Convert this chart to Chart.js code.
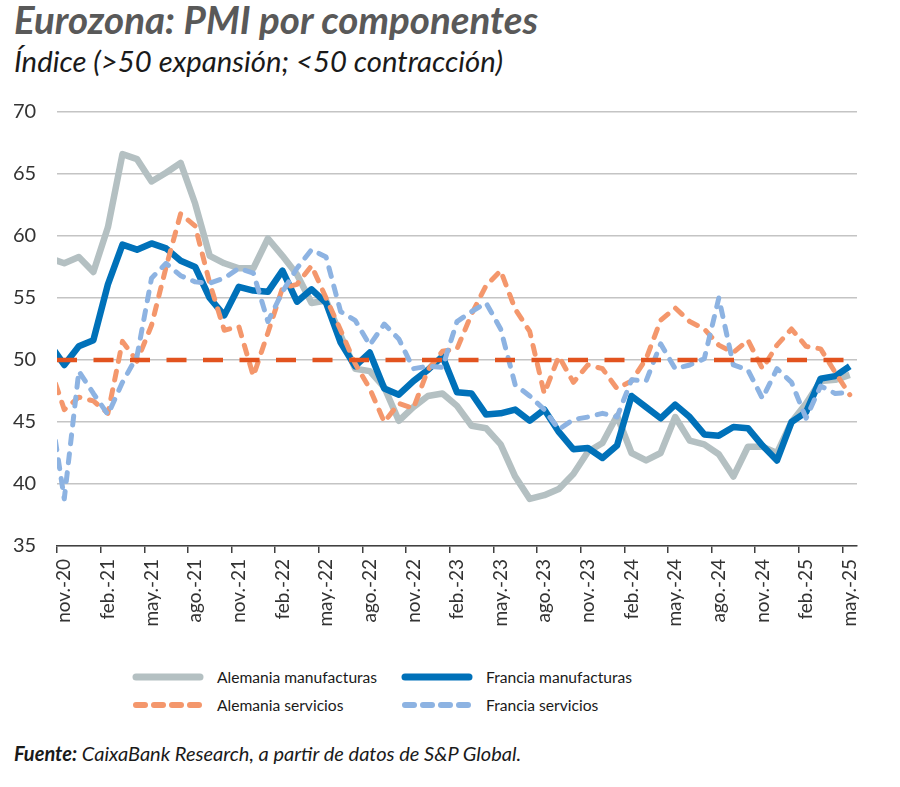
<!DOCTYPE html>
<html lang="es">
<head>
<meta charset="utf-8">
<title>Eurozona: PMI por componentes</title>
<script src="https://cdn.jsdelivr.net/npm/chart.js@4.4.1/dist/chart.umd.min.js"></script>
<style>
  html, body { margin: 0; padding: 0; background: #fff; }
  body { width: 900px; height: 787px; position: relative; overflow: hidden; font-family: Lato, 'Open Sans', sans-serif; }
  .txt { position: absolute; line-height: 1; white-space: nowrap; }
  #title { left: 14px; top: 0px; font-size: 38.5px; font-weight: 700; font-style: italic; color: #595959; }
  #subtitle { left: 14px; top: 46px; font-size: 29.3px; font-style: italic; color: #1a1a1a; }
  #chart { position: absolute; left: 0; top: 90px; }
  .leg { font-size: 15.6px; color: #1a1a1a; }
  #legend-lines { position: absolute; left: 0; top: 660px; }
  #source { left: 14px; top: 743px; font-size: 20px; font-style: italic; color: #1a1a1a; }
  #source b { font-weight: 700; }
</style>
</head>
<body>
<div id="title" class="txt">Eurozona: PMI por componentes</div>
<div id="subtitle" class="txt">Índice (&gt;50 expansión; &lt;50 contracción)</div>

<canvas id="chart" width="900" height="560"></canvas>

<!-- legend: two rows, two aligned columns -->
<svg id="legend-lines" width="500" height="60">
  <line x1="136" y1="17" x2="200" y2="17" stroke="#b4c0c2" stroke-width="7" stroke-linecap="round"/>
  <line x1="405" y1="17" x2="469" y2="17" stroke="#0071b9" stroke-width="7" stroke-linecap="round"/>
  <line x1="136" y1="45" x2="200" y2="45" stroke="#f4976c" stroke-width="6" stroke-linecap="round" stroke-dasharray="9 9"/>
  <line x1="405" y1="45" x2="469" y2="45" stroke="#8db3e2" stroke-width="6" stroke-linecap="round" stroke-dasharray="9 9"/>
</svg>
<div class="txt leg" style="left:217px; top:669.5px;">Alemania manufacturas</div>
<div class="txt leg" style="left:486px; top:669.5px;">Francia manufacturas</div>
<div class="txt leg" style="left:217px; top:698px;">Alemania servicios</div>
<div class="txt leg" style="left:486px; top:698px;">Francia servicios</div>

<div id="source" class="txt"><b>Fuente:</b> CaixaBank Research, a partir de datos de S&amp;P Global.</div>

<script>
// Monthly index, first entry (oct.-20) sits just outside the left edge of the plot
const months = [
  'oct.-20', 'nov.-20', 'dic.-20',
  'ene.-21', 'feb.-21', 'mar.-21', 'abr.-21', 'may.-21', 'jun.-21', 'jul.-21', 'ago.-21', 'sep.-21', 'oct.-21', 'nov.-21', 'dic.-21',
  'ene.-22', 'feb.-22', 'mar.-22', 'abr.-22', 'may.-22', 'jun.-22', 'jul.-22', 'ago.-22', 'sep.-22', 'oct.-22', 'nov.-22', 'dic.-22',
  'ene.-23', 'feb.-23', 'mar.-23', 'abr.-23', 'may.-23', 'jun.-23', 'jul.-23', 'ago.-23', 'sep.-23', 'oct.-23', 'nov.-23', 'dic.-23',
  'ene.-24', 'feb.-24', 'mar.-24', 'abr.-24', 'may.-24', 'jun.-24', 'jul.-24', 'ago.-24', 'sep.-24', 'oct.-24', 'nov.-24', 'dic.-24',
  'ene.-25', 'feb.-25', 'mar.-25', 'abr.-25', 'may.-25'
]

const alemaniaManuf = [
  58.2, 57.8, 58.3,
  57.1, 60.7, 66.6, 66.2, 64.4, 65.1, 65.9, 62.6, 58.4, 57.8, 57.4, 57.4,
  59.8, 58.4, 56.9, 54.6, 54.8, 52.0, 49.3, 49.1, 47.8, 45.1, 46.2, 47.1,
  47.3, 46.3, 44.7, 44.5, 43.2, 40.6, 38.8, 39.1, 39.6, 40.8, 42.6, 43.3,
  45.5, 42.5, 41.9, 42.5, 45.4, 43.5, 43.2, 42.4, 40.6, 43.0, 43.0, 42.5,
  45.0, 46.5, 48.3, 48.4, 48.8
]

const franciaManuf = [
  51.3, 49.6, 51.1,
  51.6, 56.1, 59.3, 58.9, 59.4, 59.0, 58.0, 57.5, 55.0, 53.6, 55.9, 55.6,
  55.5, 57.2, 54.7, 55.7, 54.6, 51.4, 49.5, 50.6, 47.7, 47.2, 48.3, 49.2,
  50.3, 47.4, 47.3, 45.6, 45.7, 46.0, 45.1, 46.0, 44.2, 42.8, 42.9, 42.1,
  43.1, 47.1, 46.2, 45.3, 46.4, 45.4, 44.0, 43.9, 44.6, 44.5, 43.1, 41.9,
  45.0, 45.8, 48.5, 48.7, 49.5
]

const alemaniaServ = [
  49.5, 46.0, 47.0,
  46.7, 45.7, 51.5, 49.9, 52.8, 57.5, 61.8, 60.8, 56.2, 52.4, 52.7, 48.7,
  52.2, 55.8, 56.1, 57.6, 55.0, 52.4, 49.7, 47.7, 45.0, 46.5, 46.1, 49.2,
  50.7, 50.9, 53.7, 56.0, 57.2, 54.1, 52.3, 47.3, 50.3, 48.2, 49.6, 49.3,
  47.7, 48.3, 50.1, 53.2, 54.2, 53.1, 52.5, 51.2, 50.6, 51.6, 49.3, 51.2,
  52.5, 51.1, 50.9, 49.0, 47.2
]

const franciaServ = [
  46.5, 38.8, 49.1,
  47.3, 45.6, 48.2, 50.3, 56.6, 57.8, 56.8, 56.3, 56.2, 56.6, 57.4, 57.0,
  53.1, 55.5, 57.4, 58.9, 58.3, 53.9, 53.2, 51.2, 52.9, 51.7, 49.3, 49.5,
  49.4, 53.1, 53.9, 54.6, 52.5, 48.0, 47.1, 46.0, 44.4, 45.2, 45.4, 45.7,
  45.4, 48.4, 48.3, 51.3, 49.3, 49.6, 50.1, 55.0, 49.6, 49.2, 46.9, 49.3,
  48.2, 45.3, 47.9, 47.3, 47.4
]

const yTicks = [35, 40, 45, 50, 55, 60, 65, 70]
const threshold = 50
// visible window: half a month before nov.-20 up to half a month after may.-25
const xMin = 0.5
const xMax = months.length - 0.5
const labelEvery = 3

const toPoints = (values) => values.map((v, i) => ({ x: i, y: v }))

const serie = (label, values, color, width, dashed) => ({
  label,
  data: toPoints(values),
  borderColor: color,
  borderWidth: width,
  borderDash: dashed ? [9, 10] : [],
  borderCapStyle: dashed ? 'round' : 'butt',
  borderJoinStyle: 'round',
  pointRadius: 0,
  tension: 0,
  clip: 0
})

document.addEventListener('DOMContentLoaded', () => {
  Chart.defaults.font.family = "Lato, 'Open Sans', sans-serif"
  Chart.defaults.color = '#333'

  const ctx = document.getElementById('chart').getContext('2d')
  new Chart(ctx, {
    type: 'line',
    data: {
      // first dataset is drawn on top
      datasets: [
        {
          label: '50',
          data: [{ x: xMin, y: threshold }, { x: xMax, y: threshold }],
          borderColor: '#e2531f',
          borderWidth: 4.5,
          borderDash: [20, 16.5],
          pointRadius: 0,
          clip: 0
        },
        serie('Francia servicios', franciaServ, '#8db3e2', 5, true),
        serie('Alemania servicios', alemaniaServ, '#f4976c', 5, true),
        serie('Francia manufacturas', franciaManuf, '#0071b9', 6.5, false),
        serie('Alemania manufacturas', alemaniaManuf, '#b4c0c2', 6.5, false)
      ]
    },
    options: {
      responsive: false,
      animation: false,
      events: [],
      layout: { padding: { top: 22, right: 43, left: 13, bottom: 0 } },
      plugins: {
        legend: { display: false },
        title: { display: false },
        tooltip: { enabled: false }
      },
      scales: {
        x: {
          type: 'linear',
          min: xMin,
          max: xMax,
          afterBuildTicks: (scale) => {
            // tick marks sit on month boundaries, one every quarter
            const ticks = []
            for (let v = xMin; v < xMax; v += labelEvery) ticks.push({ value: v })
            scale.ticks = ticks
          },
          afterFit: (scale) => { scale.height = 104 },
          grid: {
            drawOnChartArea: false,
            drawTicks: true,
            tickLength: 7,
            color: '#404040',
            lineWidth: 1.5
          },
          border: { display: true, color: '#404040', width: 1.5 },
          ticks: {
            autoSkip: false,
            minRotation: 90,
            maxRotation: 90,
            labelOffset: 7.3,
            padding: 6,
            font: { size: 19 },
            color: '#333',
            callback: (value) => months[Math.round(value + 0.5)]
          }
        },
        y: {
          min: yTicks[0],
          max: yTicks[yTicks.length - 1],
          afterFit: (scale) => { scale.width = 44 },
          afterBuildTicks: (scale) => {
            scale.ticks = yTicks.map(v => ({ value: v }))
          },
          grid: { color: '#c4c4c4', lineWidth: 1.5, drawTicks: false },
          border: { display: false },
          ticks: {
            padding: 0,
            crossAlign: 'far',
            font: { size: 20 },
            color: '#333'
          }
        }
      }
    }
  })
})
</script>
</body>
</html>
